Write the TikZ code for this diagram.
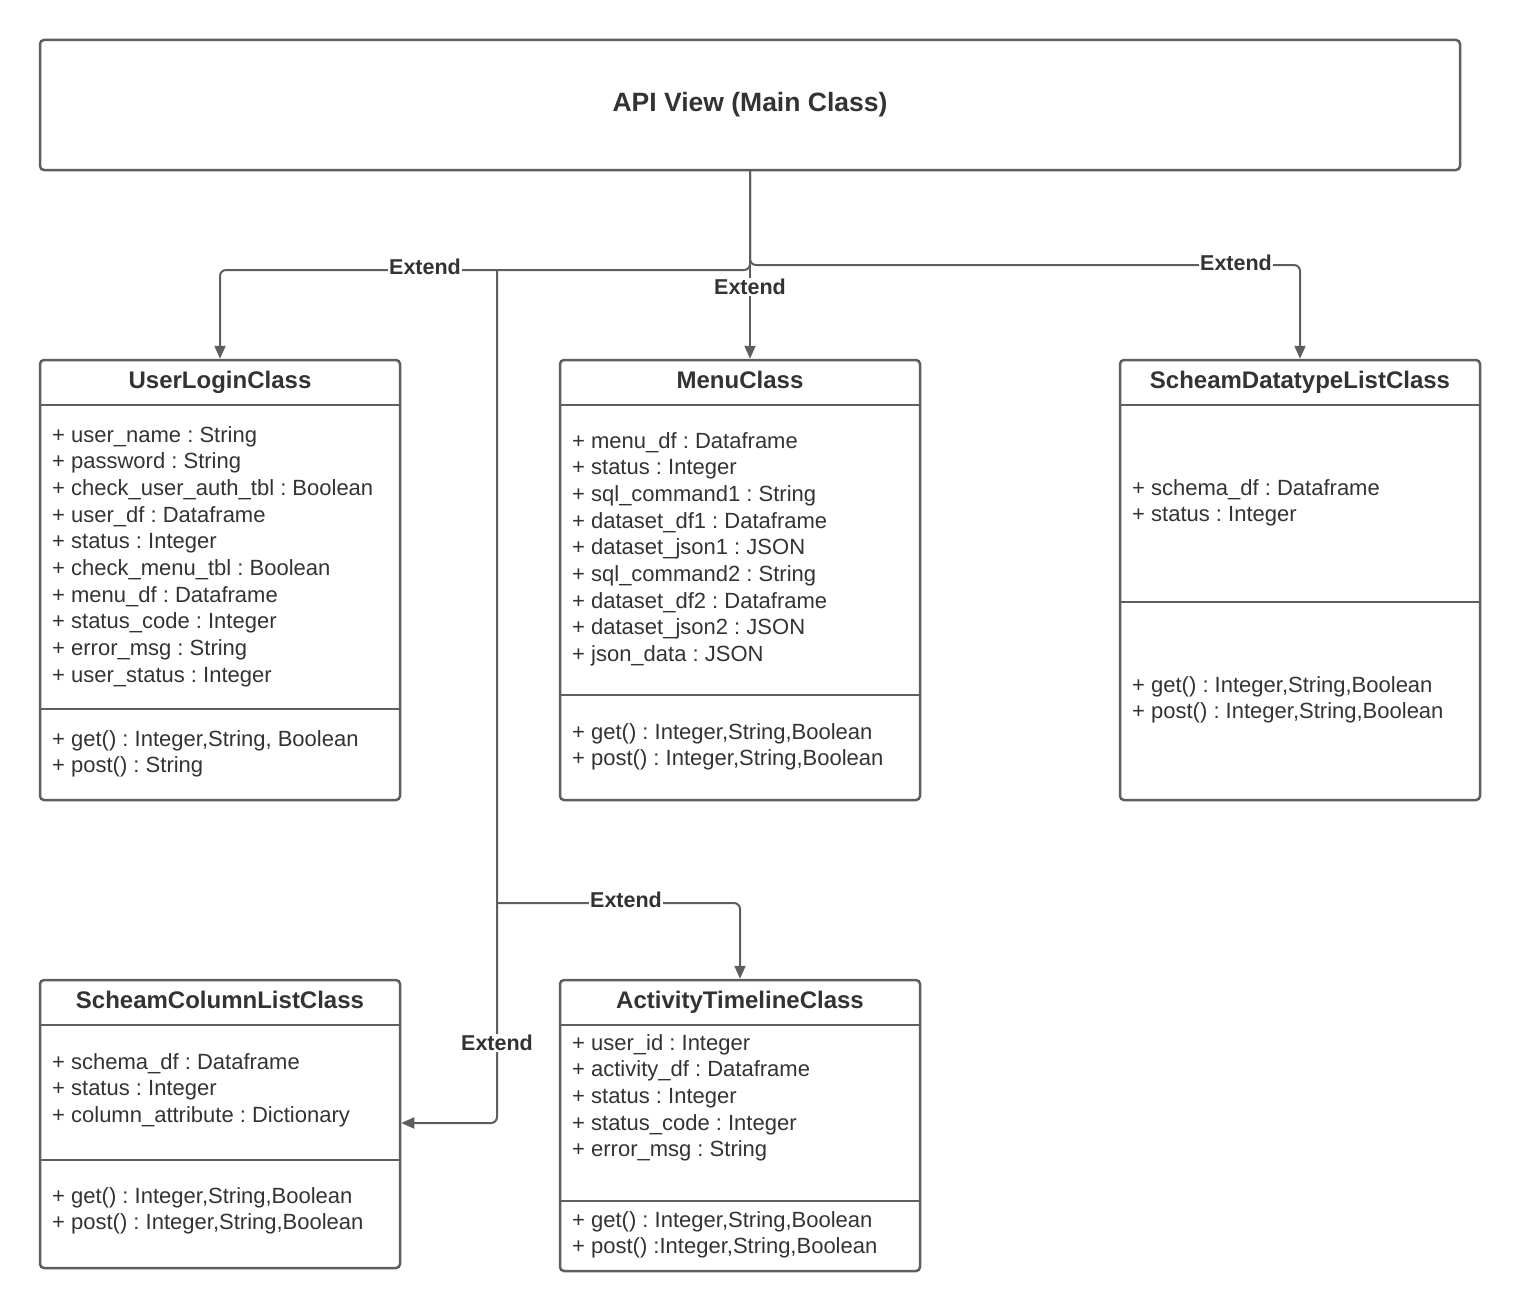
\documentclass[tikz,border=0pt]{standalone}
\usepackage{fontspec}
\setmainfont{Liberation Sans}
\usepackage{tikz}
\usepackage{xcolor}
\usetikzlibrary{positioning,arrows.meta}
\frenchspacing

\definecolor{linegray}{HTML}{5E5E5E}
\definecolor{textgray}{HTML}{333333}
\newcommand{\bodyfont}{\fontsize{22}{26.67}\selectfont}
\newcommand{\titlefont}{\fontsize{24}{28}\selectfont\bfseries}

\begin{document}
\begin{tikzpicture}[x=1pt, y=-1pt, every node/.style={inner sep=0pt, text=textgray},
  classbox/.style={draw=linegray, line width=2.5pt, rounded corners=4pt, minimum width=360pt},
  divider/.style={draw=linegray, line width=2.5pt},
  members/.style={anchor=north west, align=left, font=\bodyfont},
  classname/.style={anchor=base, font=\titlefont},
  extends/.style={draw=linegray, line width=2pt, rounded corners=6pt, -{Triangle[length=13pt,width=11pt]}},
  extlabel/.style={fill=white, inner sep=1pt, font=\fontsize{21.5}{24}\selectfont\bfseries}]
  \useasboundingbox (0,0) rectangle (1520,1311);

  % Main class
  \node[classbox, minimum width=1420pt, minimum height=130pt] (api) at (750,105) {};
  \node[anchor=base, font=\fontsize{26.5}{30}\selectfont\bfseries] (apititle) at (750,111.5) {API View (Main Class)};

  % User login class
  \node[classbox, minimum height=440pt] (login) at (220,580) {};
  \node[classname] (logintitle) at (220,388.6) {UserLoginClass};
  \draw[divider] (login.west |- 0,405) -- (login.east |- 0,405);
  \draw[divider] (login.west |- 0,709) -- (login.east |- 0,709);
  \node[members] (loginattr) at (52,423.3) {\strut+ user\_name : String\\ \strut+ password : String\\ \strut+ check\_user\_auth\_tbl : Boolean\\ \strut+ user\_df : Dataframe\\ \strut+ status : Integer\\ \strut+ check\_menu\_tbl : Boolean\\ \strut+ menu\_df : Dataframe\\ \strut+ status\_code : Integer\\ \strut+ error\_msg : String\\ \strut+ user\_status : Integer};
  \node[members] (loginops) at (52,727.3) {\strut+ get() : Integer,String, Boolean\\ \strut+ post() : String};

  % Menu class
  \node[classbox, minimum height=440pt] (menu) at (740,580) {};
  \node[classname] (menutitle) at (740,388.6) {MenuClass};
  \draw[divider] (menu.west |- 0,405) -- (menu.east |- 0,405);
  \draw[divider] (menu.west |- 0,695) -- (menu.east |- 0,695);
  \node[members] (menuattr) at (572,429.3) {\strut+ menu\_df : Dataframe\\ \strut+ status : Integer\\ \strut+ sql\_command1 : String\\ \strut+ dataset\_df1 : Dataframe\\ \strut+ dataset\_json1 : JSON\\ \strut+ sql\_command2 : String\\ \strut+ dataset\_df2 : Dataframe\\ \strut+ dataset\_json2 : JSON\\ \strut+ json\_data : JSON};
  \node[members] (menuops) at (572,720.3) {\strut+ get() : Integer,String,Boolean\\ \strut+ post() : Integer,String,Boolean};

  % Schema datatype list class
  \node[classbox, minimum height=440pt] (dtype) at (1300,580) {};
  \node[classname] (dtypetitle) at (1300,388.6) {ScheamDatatypeListClass};
  \draw[divider] (dtype.west |- 0,405) -- (dtype.east |- 0,405);
  \draw[divider] (dtype.west |- 0,602) -- (dtype.east |- 0,602);
  \node[members] (dtypeattr) at (1132,476.3) {\strut+ schema\_df : Dataframe\\ \strut+ status : Integer};
  \node[members] (dtypeops) at (1132,673.3) {\strut+ get() : Integer,String,Boolean\\ \strut+ post() : Integer,String,Boolean};

  % Schema column list class
  \node[classbox, minimum height=288pt] (column) at (220,1124) {};
  \node[classname] (columntitle) at (220,1008.6) {ScheamColumnListClass};
  \draw[divider] (column.west |- 0,1025) -- (column.east |- 0,1025);
  \draw[divider] (column.west |- 0,1160) -- (column.east |- 0,1160);
  \node[members] (columnattr) at (52,1050.3) {\strut+ schema\_df : Dataframe\\ \strut+ status : Integer\\ \strut+ column\_attribute : Dictionary};
  \node[members] (columnops) at (52,1184.3) {\strut+ get() : Integer,String,Boolean\\ \strut+ post() : Integer,String,Boolean};

  % Activity timeline class
  \node[classbox, minimum height=291pt] (activity) at (740,1125.5) {};
  \node[classname] (activitytitle) at (740,1008.6) {ActivityTimelineClass};
  \draw[divider] (activity.west |- 0,1025) -- (activity.east |- 0,1025);
  \draw[divider] (activity.west |- 0,1201) -- (activity.east |- 0,1201);
  \node[members] (activityattr) at (572,1031.3) {\strut+ user\_id : Integer\\ \strut+ activity\_df : Dataframe\\ \strut+ status : Integer\\ \strut+ status\_code : Integer\\ \strut+ error\_msg : String};
  \node[members] (activityops) at (572,1208.3) {\strut+ get() : Integer,String,Boolean\\ \strut+ post() :Integer,String,Boolean};

  % Extend connectors
  \coordinate (trunk) at (497,270);
  \coordinate (branch) at (497,903);
  \draw[extends] (api.south) |- (trunk) -| (login.north);
  \draw[extends] (api.south) |- (1300,265) -- (dtype.north);
  \draw[extends] (api.south) -- (api.south |- menu.north);
  \draw[extends] (trunk) |- (column.east |- 0,1123);
  \draw[extends] (branch) -| (activity.north);

  % Labels
  \node[extlabel] (ext1) at (425,267) {Extend};
  \node[extlabel] (ext2) at (750,287) {Extend};
  \node[extlabel] (ext3) at (1236,263) {Extend};
  \node[extlabel] (ext4) at (626,900) {Extend};
  \node[extlabel] (ext5) at (497,1043) {Extend};
\end{tikzpicture}
\end{document}
